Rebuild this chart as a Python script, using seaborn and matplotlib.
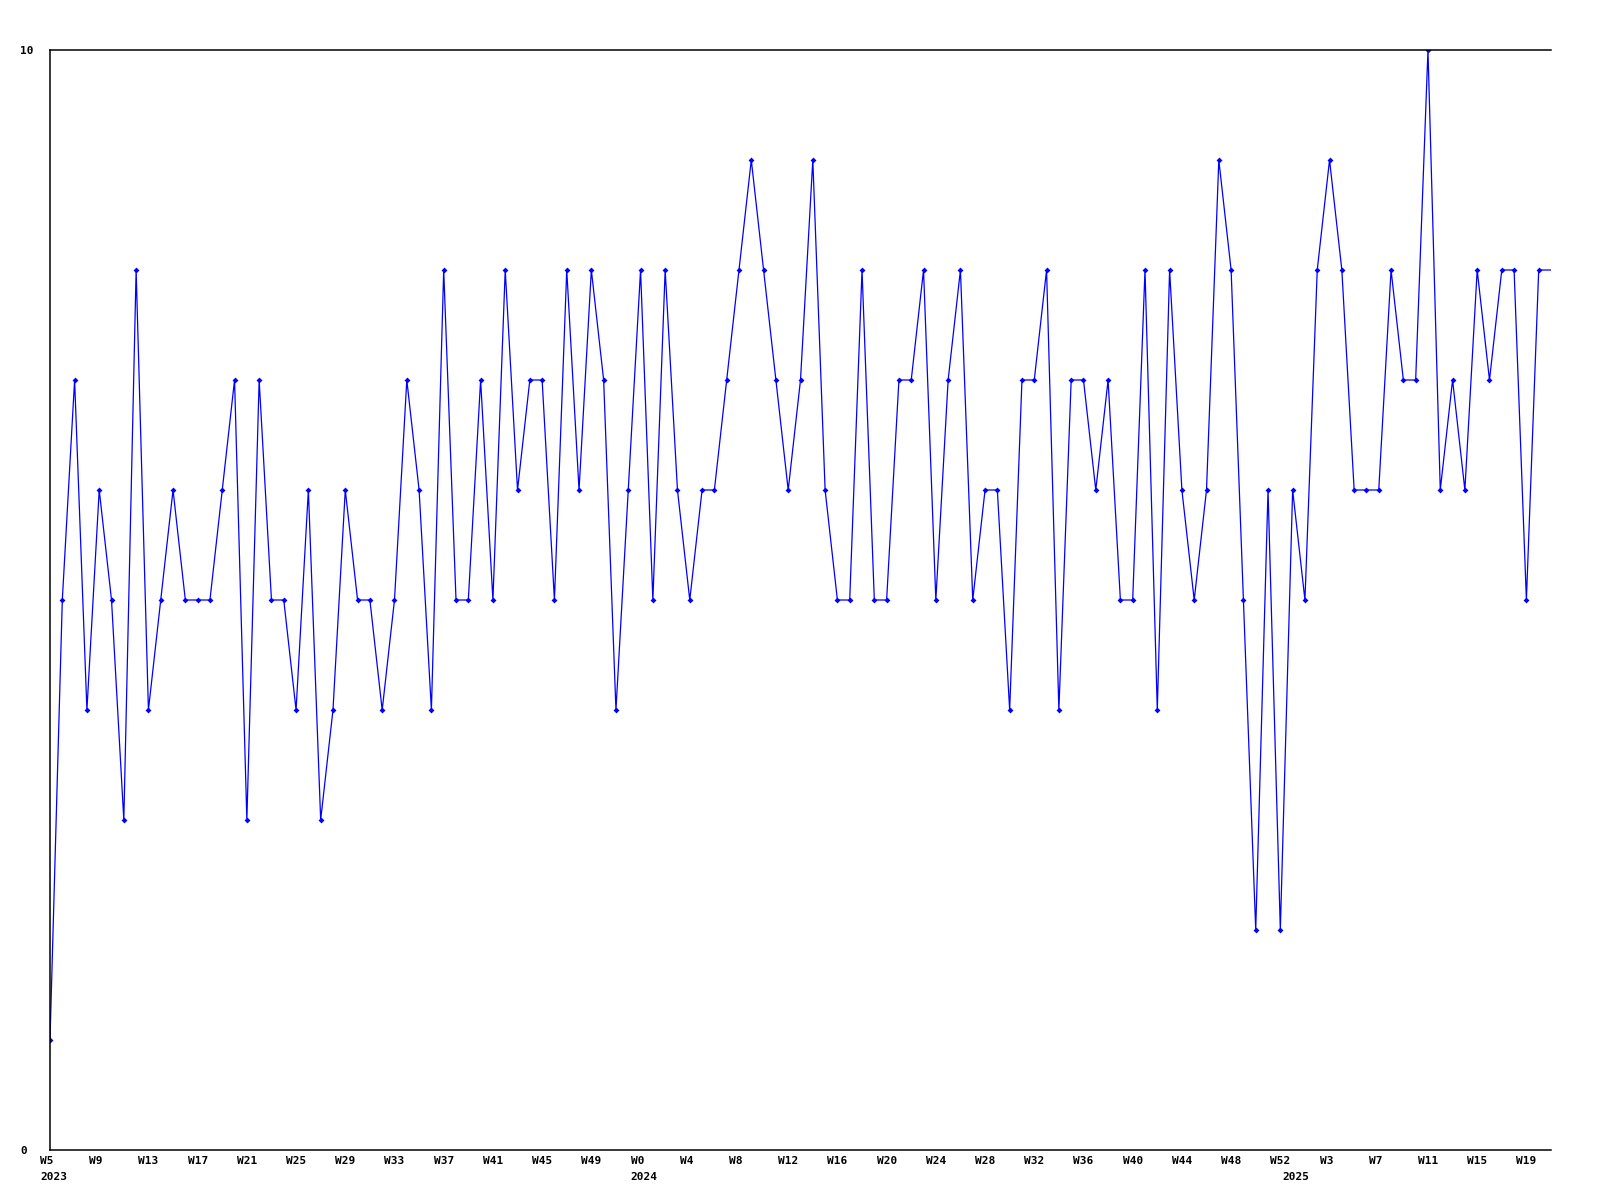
import matplotlib

matplotlib.use("Agg")
import matplotlib.pyplot as plt
import matplotlib.transforms as mtransforms
import numpy as np
import seaborn as sns

# weekly values, W5 2023 .. W21 2025
values = [
    1, 5, 7, 4, 6, 5, 3, 8, 4, 5,
    6, 5, 5, 5, 6, 7, 3, 7, 5, 5,
    4, 6, 3, 4, 6, 5, 5, 4, 5, 7,
    6, 4, 8, 5, 5, 7, 5, 8, 6, 7,
    7, 5, 8, 6, 8, 7, 4, 6, 8, 5,
    8, 6, 5, 6, 6, 7, 8, 9, 8, 7,
    6, 7, 9, 6, 5, 5, 8, 5, 5, 7,
    7, 8, 5, 7, 8, 5, 6, 6, 4, 7,
    7, 8, 4, 7, 7, 6, 7, 5, 5, 8,
    4, 8, 6, 5, 6, 9, 8, 5, 2, 6,
    2, 6, 5, 8, 9, 8, 6, 6, 6, 8,
    7, 7, 10, 6, 7, 6, 8, 7, 8, 8,
    5, 8, 8,
]
weeks_2023 = list(range(5, 53))
weeks_2024 = list(range(0, 53))
weeks_2025 = list(range(0, 22))
years = ["2023", "2024", "2025"]

weeks = weeks_2023 + weeks_2024 + weeks_2025
idx = np.arange(len(values))
year_starts = [0, len(weeks_2023), len(weeks_2023) + len(weeks_2024)]

sns.set_style("white")
plt.rcParams["font.family"] = ["DejaVu Sans Mono"]
plt.rcParams["font.weight"] = "bold"
plt.rcParams["text.color"] = "black"
plt.rcParams["xtick.color"] = "black"
plt.rcParams["ytick.color"] = "black"

fig, ax = plt.subplots(figsize=(16, 12), dpi=100)
fig.subplots_adjust(left=50 / 1600, right=1551 / 1600, top=1 - 50 / 1200, bottom=1 - 1150 / 1200)

sns.lineplot(
    x=idx,
    y=values,
    ax=ax,
    color="#0000ff",
    linewidth=0.9,
    marker="D",
    markersize=3,
    markeredgewidth=0,
    markevery=list(range(len(values) - 1)),
)

ax.set_xlim(0, len(values) - 1)
ax.set_ylim(0, 10)

for side in ["left", "top", "bottom"]:
    ax.spines[side].set_visible(True)
    ax.spines[side].set_color("black")
    ax.spines[side].set_linewidth(1.1)
ax.spines["right"].set_visible(False)

# a tick every 4 weeks
tick_pos = [p for p in idx[::4] if p < len(values) - 1]
ax.set_xticks(tick_pos)
ax.set_xticklabels([f"W{weeks[p]}" for p in tick_pos], fontsize=8, fontweight="bold")
ax.set_yticks([0, 10])
ax.set_yticklabels(["0", "10"], fontsize=8, fontweight="bold")
ax.tick_params(axis="x", length=0, pad=4, labelcolor="black")
ax.tick_params(axis="y", length=0, pad=21.6, labelcolor="black")

shift = mtransforms.ScaledTranslation(-10 / 100, 0, fig.dpi_scale_trans)
for lab in ax.get_xticklabels():
    lab.set_horizontalalignment("left")
    lab.set_transform(lab.get_transform() + shift)
for lab in ax.get_yticklabels():
    lab.set_horizontalalignment("left")

year_tr = mtransforms.offset_copy(ax.get_xaxis_transform(), fig=fig, x=-10, y=-22, units="dots")
for start, yr in zip(year_starts, years):
    ax.text(start, 0, yr, transform=year_tr, ha="left", va="top",
            fontsize=8, fontweight="bold", color="black")

ax.set_xlabel("")
ax.set_ylabel("")

plt.savefig("out.png", dpi=100)
plt.close()
